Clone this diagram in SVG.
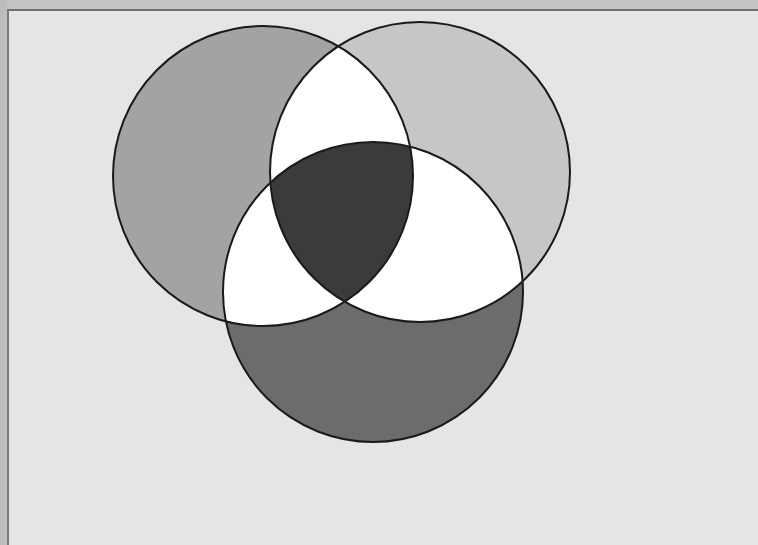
<svg xmlns="http://www.w3.org/2000/svg" width="758" height="545" viewBox="0 0 758 545">
<defs>
<style>
.edge{fill:none;stroke:#1a1a1a;stroke-width:2}
</style>
<clipPath id="cA"><circle cx="263" cy="176" r="150"/></clipPath>
<clipPath id="cB"><circle cx="420" cy="172" r="150"/></clipPath>
<clipPath id="cC"><circle cx="373" cy="292" r="150"/></clipPath>
</defs>
<rect x="0" y="0" width="758" height="545" fill="#e5e5e5"/>
<rect x="0" y="0" width="758" height="9" fill="#c4c4c4"/>
<rect x="0" y="0" width="7" height="545" fill="#bdbdbd"/>
<line x1="7" y1="10" x2="758" y2="10" stroke="#6e6e6e" stroke-width="2"/>
<line x1="8" y1="10" x2="8" y2="545" stroke="#7a7a7a" stroke-width="2"/>
<g id="setA"><circle cx="263" cy="176" r="150" fill="#a3a3a3"/></g>
<g id="setB"><circle cx="420" cy="172" r="150" fill="#c6c6c6"/></g>
<g id="setC"><circle cx="373" cy="292" r="150" fill="#6c6c6c"/></g>
<g id="overlaps">
<g clip-path="url(#cA)"><circle cx="420" cy="172" r="150" fill="#ffffff"/><circle cx="373" cy="292" r="150" fill="#ffffff"/></g>
<g clip-path="url(#cB)"><circle cx="373" cy="292" r="150" fill="#ffffff"/></g>
<g clip-path="url(#cA)"><g clip-path="url(#cB)"><circle cx="373" cy="292" r="150" fill="#3b3b3b"/></g></g>
</g>
<g id="outlines">
<circle class="edge" cx="263" cy="176" r="150"/>
<circle class="edge" cx="420" cy="172" r="150"/>
<circle class="edge" cx="373" cy="292" r="150"/>
</g>
</svg>
